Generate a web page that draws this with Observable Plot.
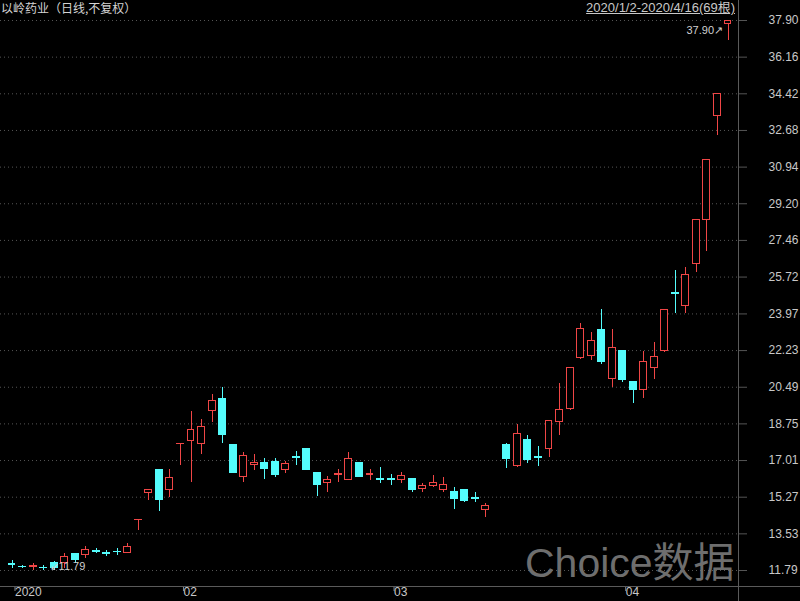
<!DOCTYPE html>
<html>
<head>
<meta charset="utf-8">
<script src="https://cdn.jsdelivr.net/npm/d3@7"></script>
<script src="https://cdn.jsdelivr.net/npm/@observablehq/plot@0.6"></script>
<style>
  html, body { margin: 0; padding: 0; background: #000; }
  #wrap { position: relative; width: 800px; height: 601px; overflow: hidden; background: #000;
          font-family: "Liberation Sans", Arial, "Noto Sans CJK SC", sans-serif; }
  #wrap svg { position: absolute; left: 0; top: 0; }
  #title { position: absolute; left: 1px; top: 0; font: 12px/16px "Noto Sans CJK SC", sans-serif; color: #d4d4d4; }
  #range { position: absolute; right: 65px; top: 0; font-size: 13px; line-height: 16px; color: #c8c8c8;
           text-decoration: underline; font-family: "Liberation Sans", "Noto Sans CJK SC", sans-serif; }
  #brand { position: absolute; left: 525px; top: 543px; font-size: 41px; line-height: 41px; color: #6e6e6e;
           font-family: "Liberation Sans", "Noto Sans CJK SC", sans-serif; white-space: nowrap; }
  .vline { position: absolute; left: 738px; top: 0; width: 1px; height: 601px; background: #5a5a5a; }
  .hline { position: absolute; left: 0; top: 586px; width: 800px; height: 1px; background: #5a5a5a; }
</style>
</head>
<body>
<div id="wrap">
  <div id="brand">Choice数据</div>
  <div class="vline"></div>
  <div class="hline"></div>
  <div id="title">以岭药业（日线,不复权）</div>
  <div id="range">2020/1/2-2020/4/16(69根)</div>
</div>
<script>
// Daily bars, 2020-01-02 .. 2020-04-16 (69 trading days, unadjusted)
const dates = [
  "2020-01-02","2020-01-03","2020-01-06","2020-01-07","2020-01-08","2020-01-09","2020-01-10",
  "2020-01-13","2020-01-14","2020-01-15","2020-01-16","2020-01-17","2020-01-20","2020-01-21",
  "2020-01-22","2020-01-23",
  "2020-02-03","2020-02-04","2020-02-05","2020-02-06","2020-02-07","2020-02-10","2020-02-11",
  "2020-02-12","2020-02-13","2020-02-14","2020-02-17","2020-02-18","2020-02-19","2020-02-20",
  "2020-02-21","2020-02-24","2020-02-25","2020-02-26","2020-02-27","2020-02-28",
  "2020-03-02","2020-03-03","2020-03-04","2020-03-05","2020-03-06","2020-03-09","2020-03-10",
  "2020-03-11","2020-03-12","2020-03-13","2020-03-16","2020-03-17","2020-03-18","2020-03-19",
  "2020-03-20","2020-03-23","2020-03-24","2020-03-25","2020-03-26","2020-03-27","2020-03-30",
  "2020-03-31",
  "2020-04-01","2020-04-02","2020-04-03","2020-04-07","2020-04-08","2020-04-09","2020-04-10",
  "2020-04-13","2020-04-14","2020-04-15","2020-04-16"
];
const open = [
  12.10, 11.97, 11.96, 11.93, 12.14, 12.15, 12.59, 12.51, 12.73, 12.61, 12.69, 12.64, 14.17, 15.48,
  16.54, 15.63,
  17.78, 17.92, 17.81, 19.36, 19.95, 17.73, 16.22, 16.82, 16.89, 16.94, 16.58, 17.17, 17.57, 16.43,
  15.94, 16.30, 16.07, 16.91, 16.30, 16.12,
  16.12, 16.10, 16.15, 15.67, 15.78, 15.59, 15.51, 15.59, 15.22, 14.64, 16.31, 17.76, 16.75, 17.97,
  17.19, 17.54, 18.83, 19.44, 21.89, 21.95, 23.23, 20.89,
  22.20, 20.73, 20.37, 21.42, 22.20, 24.95, 24.33, 26.35, 28.44, 33.39, 37.72
];
const high = [
  12.27, 12.03, 12.11, 12.03, 12.22, 12.59, 12.62, 12.95, 12.83, 12.75, 12.83, 13.09, 14.19, 15.61,
  16.60, 16.58,
  17.80, 19.36, 18.95, 20.15, 20.47, 17.75, 17.41, 17.29, 17.13, 17.13, 16.98, 17.44, 17.60, 16.45,
  16.26, 16.58, 17.41, 16.93, 16.58, 16.70,
  16.34, 16.42, 16.17, 15.91, 16.31, 16.20, 15.72, 15.62, 15.51, 14.96, 16.31, 17.80, 18.73, 18.20,
  17.70, 18.90, 20.69, 21.42, 23.53, 23.08, 24.18, 23.22,
  22.25, 20.75, 22.20, 22.63, 24.20, 26.03, 26.19, 28.46, 31.28, 34.41, 37.90
];
const low = [
  11.88, 11.88, 11.80, 11.79, 11.80, 11.88, 12.14, 12.35, 12.59, 12.46, 12.51, 12.63, 13.69, 15.12,
  14.60, 15.25,
  16.78, 15.99, 17.30, 18.83, 17.84, 16.40, 15.99, 16.54, 16.10, 16.20, 16.39, 16.78, 16.55, 15.28,
  15.51, 15.99, 16.05, 16.20, 16.04, 15.91,
  15.83, 15.94, 15.47, 15.47, 15.72, 15.47, 14.68, 15.04, 15.04, 14.30, 16.31, 16.62, 16.70, 16.86,
  16.75, 17.17, 18.20, 19.40, 21.80, 21.76, 21.57, 20.47,
  20.70, 19.74, 19.95, 20.85, 22.15, 24.01, 23.98, 25.95, 26.95, 32.44, 36.95
];
const close = [
  12.06, 11.94, 12.00, 11.89, 11.91, 12.43, 12.27, 12.78, 12.69, 12.57, 12.65, 12.90, 14.19, 15.61,
  15.12, 16.18,
  17.80, 18.47, 18.60, 19.83, 18.20, 16.43, 17.21, 16.88, 16.59, 16.34, 16.83, 17.13, 16.58, 15.83,
  16.10, 16.38, 17.10, 16.22, 16.36, 16.08,
  16.08, 16.26, 15.63, 15.78, 15.94, 15.83, 15.20, 15.09, 15.18, 14.83, 16.31, 17.06, 18.28, 17.02,
  17.15, 18.88, 19.42, 21.40, 23.27, 22.67, 21.68, 22.37,
  20.81, 20.37, 21.68, 21.92, 24.17, 24.91, 25.84, 28.44, 31.28, 34.41, 37.90
];

// Price axis: 16 evenly spaced levels from the period low to the period high
const yTicks = [11.79, 13.53, 15.27, 17.01, 18.75, 20.49, 22.23, 23.97,
                25.72, 27.46, 29.20, 30.94, 32.68, 34.42, 36.16, 37.90];
// Time axis labels: year, then each new month
const xTickLabels = ["2020", "02", "03", "04"];

const UP = "#f04646";
const DOWN = "#54fcfc";

const candles = dates.map((date, i) => ({
  i, date, open: open[i], high: high[i], low: low[i], close: close[i]
}));
const isUp = d => d.close >= d.open;
const colorOf = d => isUp(d) ? UP : DOWN;

// first trading day of each month
const monthStarts = candles
  .filter((d, k) => k === 0 || d.date.slice(5, 7) !== candles[k - 1].date.slice(5, 7))
  .map(d => d.i);
const labelOf = new Map(monthStarts.map((k, j) => [k, xTickLabels[j]]));

const maxBar = candles.reduce((a, b) => (b.high > a.high ? b : a));
const minBar = candles.reduce((a, b) => (b.low < a.low ? b : a));

const chart = Plot.plot({
  width: 800,
  height: 601,
  marginTop: 0,
  marginLeft: 0,
  marginRight: 62,
  marginBottom: 15,
  style: { background: "transparent", color: "#c8c8c8",
           fontFamily: "'Liberation Sans', Arial, sans-serif", fontSize: "12px" },
  x: { type: "linear", domain: [0, dates.length - 1], range: [11.5, 727.5] },
  y: { type: "linear", domain: [yTicks[0], yTicks[yTicks.length - 1]], range: [570, 20] },
  marks: [
    Plot.ruleY(yTicks, { stroke: "#555", strokeDasharray: "1,3" }),
    Plot.axisY({
      anchor: "right", ticks: yTicks, tickFormat: d => d.toFixed(2),
      tickSize: 8, tickPadding: 22, stroke: "#555", fill: "#c8c8c8", fontSize: 12, label: null
    }),
    Plot.axisX({
      anchor: "bottom", ticks: monthStarts, tickFormat: k => labelOf.get(k),
      tickSize: 5, tickPadding: -4, textAnchor: "start", dx: 3,
      stroke: "#888", fill: "#c8c8c8", fontSize: 12, label: null
    }),
    // wicks
    Plot.ruleX(candles, {
      x: "i", y1: "low", y2: "high", stroke: colorOf, strokeWidth: 1, shapeRendering: "crispEdges"
    }),
    // bodies: hollow red for rising days, solid cyan for falling days
    Plot.rect(candles, {
      x1: d => d.i - 0.33, x2: d => d.i + 0.33, y1: "open", y2: "close",
      fill: d => isUp(d) ? "#000" : DOWN, stroke: colorOf, strokeWidth: 1, shapeRendering: "crispEdges"
    }),
    // period high / low markers
    Plot.text([maxBar], {
      x: "i", y: "high", text: d => d.high.toFixed(2) + "↗",
      textAnchor: "end", dx: -5, dy: 10, fill: "#d0d0d0", fontSize: 11
    }),
    Plot.text([minBar], {
      x: "i", y: "low", text: d => "↙" + d.low.toFixed(2),
      textAnchor: "start", dx: 6, dy: -4, fill: "#d0d0d0", fontSize: 11
    })
  ]
});

document.getElementById("wrap").prepend(chart);
</script>
</body>
</html>
